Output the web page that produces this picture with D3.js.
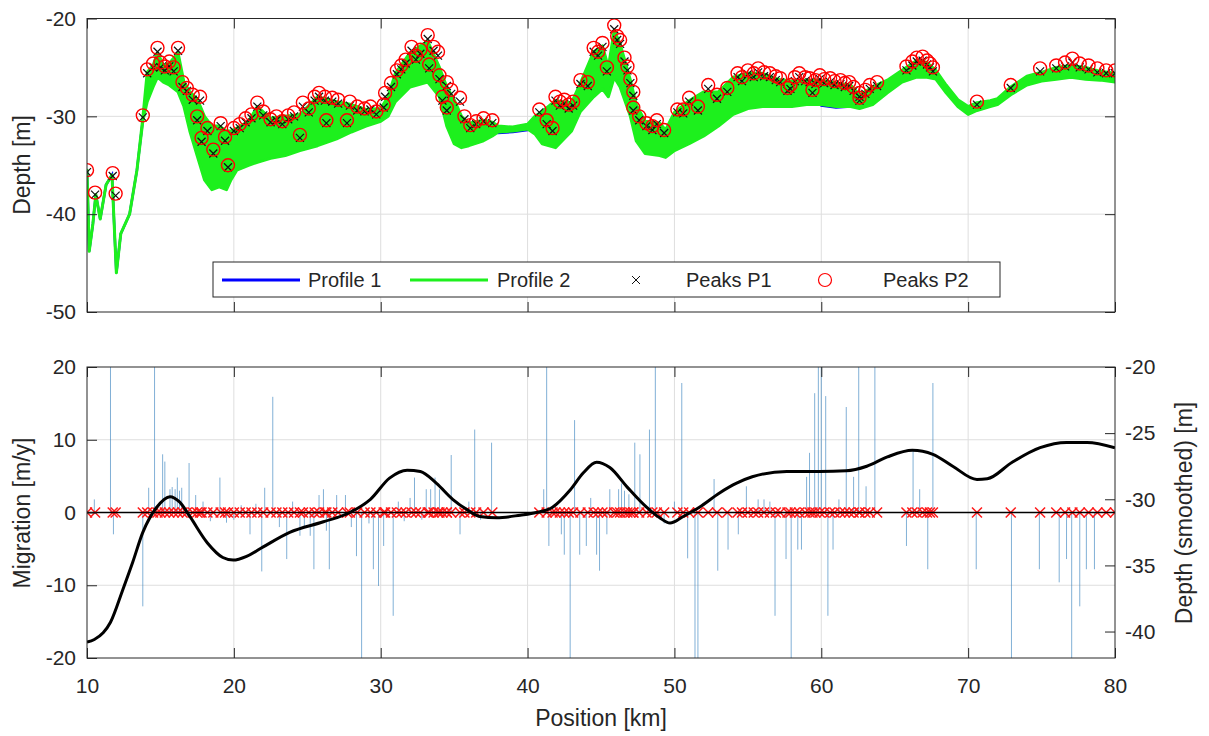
<!DOCTYPE html>
<html>
<head>
<meta charset="utf-8">
<script src="https://cdn.jsdelivr.net/npm/d3@7"></script>
<style>
body { margin: 0; background: #fff; }
text { font-family: "Liberation Sans", Arial, sans-serif; fill: #262626; }
</style>
</head>
<body>
<div id="svgWrapper"></div>
<script>
const width = 1209;
const height = 736;

// Profile band (profile 2 upper / lower edge) and profile 1, depth in m
const profPos = [10.0, 10.15, 10.4, 10.6, 10.9, 11.3, 11.7, 12.0, 12.3, 12.9, 13.4, 13.8, 14.1, 14.5, 14.8, 15.2, 15.6, 16.2, 16.6, 17.0,
    17.5, 18.0, 18.5, 19.0, 19.5, 19.8, 20.2, 21.0, 21.6, 22.5, 23.5, 24.5, 25.7, 27.0, 28.0, 29.0, 30.0, 30.5, 31.0, 32.0,
    33.2, 34.0, 34.5, 35.0, 35.5, 36.0, 37.0, 37.6, 38.0, 39.0, 40.0, 40.5, 41.0, 41.9, 43.0, 43.6, 44.5, 45.1, 45.5, 45.9,
    46.3, 47.0, 47.4, 48.0, 49.0, 49.4, 50.0, 51.0, 52.0, 53.0, 54.0, 55.0, 56.0, 57.0, 58.0, 59.0, 60.0, 61.0, 62.0, 62.6,
    63.5, 64.5, 65.5, 66.5, 67.2, 67.8, 68.5, 69.3, 70.0, 70.6, 71.5, 72.0, 72.9, 74.0, 75.0, 76.0, 77.0, 78.0, 79.0, 80.0];
const p2Top = [-35.5, -43.8, -41.0, -38.0, -40.5, -37.0, -36.0, -46.0, -42.0, -40.0, -35.5, -30.2, -25.5, -24.8, -23.5, -24.8, -24.6, -23.5, -26.5, -27.5,
    -28.2, -30.0, -31.0, -31.0, -31.5, -31.5, -31.2, -30.5, -29.0, -30.2, -30.0, -29.8, -28.0, -28.5, -28.8, -29.3, -29.2, -28.0, -25.6, -23.5,
    -22.3, -25.0, -27.0, -28.3, -30.0, -30.7, -30.4, -30.6, -31.0, -31.1, -30.8, -30.0, -29.5, -28.4, -28.6, -26.6, -23.4, -22.8, -25.0, -21.2,
    -22.6, -26.3, -28.8, -30.5, -30.7, -31.4, -29.6, -28.4, -27.5, -27.5, -26.0, -25.6, -25.6, -26.2, -26.4, -26.3, -26.3, -26.6, -26.8, -27.8,
    -27.0, -26.3, -25.3, -24.3, -24.5, -25.3, -26.8, -28.3, -29.0, -28.6, -28.4, -28.2, -27.0, -25.9, -25.5, -25.0, -24.8, -25.0, -25.4, -25.6];
const p2Bot = [-35.5, -43.8, -41.0, -38.0, -40.5, -37.0, -36.0, -46.0, -42.0, -40.0, -35.5, -30.5, -28.5, -27.0, -26.0, -26.5, -26.8, -27.5, -29.0, -31.5,
    -34.0, -36.5, -37.5, -37.2, -37.5, -36.5, -35.5, -35.0, -34.7, -34.3, -34.0, -33.5, -33.0, -32.3, -31.6, -31.0, -30.5, -30.0, -28.5, -27.0,
    -26.5, -28.0, -31.0, -32.8, -33.2, -33.0, -32.5, -32.0, -31.6, -31.5, -31.3, -31.8, -32.8, -33.2, -31.5, -29.5, -28.0, -27.2, -28.0, -26.0,
    -27.0, -30.0, -32.5, -33.8, -34.0, -34.2, -33.5, -32.8, -32.0, -31.0, -29.8, -29.2, -29.0, -29.0, -29.0, -28.8, -28.8, -29.0, -29.0, -29.2,
    -28.8, -27.6, -26.5, -26.0, -26.0, -26.2, -27.6, -29.0, -29.8, -29.4, -29.0, -28.8, -27.8, -26.8, -26.4, -26.2, -26.0, -26.2, -26.3, -26.5];
const p1Depth = [-35.5, -43.8, -41.0, -38.0, -40.5, -37.0, -36.0, -46.0, -42.0, -40.0, -35.5, -30.4, -27.0, -26.0, -25.0, -25.8, -25.8, -25.6, -27.8, -29.5,
    -31.0, -33.0, -34.0, -34.0, -34.2, -34.0, -33.5, -33.0, -32.0, -32.2, -32.0, -31.6, -30.5, -30.4, -30.2, -30.2, -29.9, -29.0, -27.0, -25.3,
    -24.4, -26.5, -29.0, -30.5, -31.6, -31.8, -31.5, -31.6, -31.7, -31.6, -31.4, -31.0, -31.2, -30.8, -30.0, -28.0, -25.7, -25.0, -26.5, -23.6,
    -24.8, -28.2, -30.6, -32.1, -32.3, -32.8, -31.5, -30.6, -29.8, -29.2, -27.9, -27.4, -27.3, -27.6, -27.7, -27.6, -28.9, -29.1, -29.0, -28.5,
    -27.9, -27.0, -25.9, -25.2, -25.3, -25.8, -27.2, -28.7, -29.6, -29.2, -28.7, -28.5, -27.4, -26.4, -26.0, -25.6, -25.4, -25.6, -25.9, -26.1];

// Detected peaks: position [km], depth of profile 1 and profile 2
const peakPos = [10.0, 10.55, 11.75, 11.95,
    13.8, 14.1, 14.5, 14.8, 15.0, 15.3, 15.6, 15.9, 16.2, 16.5, 16.8, 17.2, 17.5, 17.7, 17.8, 18.2, 18.6, 19.1, 19.4, 19.6,
    20.0, 20.4, 20.8, 21.2, 21.6, 22.0, 22.5, 22.9, 23.3, 23.7, 24.1, 24.5, 24.7, 25.1, 25.5, 25.8, 26.2, 26.3, 26.7, 27.1, 27.7, 27.9, 28.4, 28.9, 29.3, 29.7,
    30.2, 30.3, 30.7, 31.1, 31.4, 31.7, 32.1, 32.4, 32.7, 33.2, 33.3, 33.6, 33.9, 34.0, 34.2, 34.5, 34.5, 34.8, 35.4, 35.7, 36.1, 36.5, 37.0, 37.6,
    40.8, 41.3, 41.7, 41.9, 42.2, 42.5, 42.8, 43.1, 43.6, 44.1, 44.5, 44.8, 45.1, 45.4, 45.9, 46.1, 46.3, 46.6, 46.8, 47.0, 47.2, 47.2, 47.6, 48.1, 48.5, 48.8, 49.3,
    50.2, 50.6, 51.0, 51.6, 52.3, 52.9, 53.6, 54.3, 54.6, 55.0, 55.4, 55.7, 56.1, 56.5, 56.9, 57.2, 57.7, 57.9, 58.2, 58.5, 58.9, 59.2, 59.4, 59.6, 59.9, 60.2, 60.6, 60.9, 61.3, 61.6, 61.9, 62.2, 62.6, 62.6, 63.0, 63.3, 63.8,
    65.8, 66.2, 66.5, 66.9, 67.2, 67.4, 67.6, 70.6, 72.9, 74.9, 76.0, 76.6, 77.1, 77.6, 78.2, 78.8, 79.4, 80.0];
const peakP2 = [-35.5, -37.8, -35.8, -37.9,
    -29.9, -25.2, -24.6, -23.0, -24.5, -24.9, -24.4, -25.0, -23.0, -26.5, -27.1, -27.8, -30.0, -28.0, -32.2, -31.2, -33.4, -30.7, -32.1, -35.0,
    -31.2, -30.8, -30.2, -29.8, -28.6, -29.5, -30.3, -30.0, -30.5, -29.9, -29.6, -31.9, -28.6, -29.2, -28.0, -27.6, -28.0, -30.4, -28.1, -28.3, -30.4, -28.5, -29.0, -29.2, -29.0, -29.5,
    -28.8, -27.6, -26.6, -25.3, -24.8, -24.2, -22.9, -23.8, -23.2, -21.7, -24.7, -22.9, -23.4, -25.8, -28.0, -26.5, -29.1, -27.3, -28.1, -30.0, -30.9, -30.5, -30.2, -30.4,
    -29.3, -30.4, -31.2, -28.0, -28.5, -28.3, -28.8, -28.5, -26.3, -26.5, -23.0, -23.4, -22.5, -25.0, -20.7, -21.8, -22.2, -24.0, -24.9, -26.2, -27.5, -29.1, -30.0, -30.7, -31.0, -30.4, -31.4,
    -29.3, -29.3, -28.1, -29.0, -26.8, -27.8, -27.1, -25.6, -26.0, -25.3, -25.6, -25.1, -25.5, -25.6, -25.9, -26.1, -27.1, -26.8, -26.0, -25.6, -26.0, -26.1, -27.3, -26.3, -25.8, -26.2, -26.1, -26.4, -26.3, -26.6, -26.5, -27.0, -27.6, -28.1, -27.3, -26.8, -26.5,
    -24.9, -24.4, -24.0, -23.9, -24.3, -24.6, -25.0, -28.5, -26.8, -25.1, -24.8, -24.5, -24.1, -24.6, -24.8, -25.1, -25.3, -25.3];
const peakP1 = [-35.7, -38.0, -36.1, -38.1,
    -30.1, -25.6, -25.0, -23.4, -25.0, -25.3, -24.9, -25.4, -23.3, -27.0, -27.4, -28.3, -30.4, -28.4, -32.6, -31.5, -33.8, -31.0, -32.5, -35.2,
    -31.5, -31.2, -30.6, -30.2, -29.0, -29.9, -30.6, -30.4, -30.8, -30.3, -30.0, -32.2, -29.0, -29.6, -28.4, -28.0, -28.4, -30.7, -28.5, -28.7, -30.7, -28.9, -29.4, -29.5, -29.3, -29.8,
    -29.1, -28.0, -27.0, -25.7, -25.2, -24.6, -23.3, -24.2, -23.6, -22.1, -25.1, -23.3, -23.8, -26.2, -28.4, -26.9, -29.4, -27.7, -28.5, -30.3, -31.2, -30.8, -30.5, -30.7,
    -29.6, -30.8, -31.5, -28.4, -28.9, -28.7, -29.2, -28.9, -26.7, -26.9, -23.4, -23.8, -22.9, -25.4, -21.1, -22.2, -22.6, -24.4, -25.3, -26.6, -27.9, -29.4, -30.4, -31.0, -31.4, -30.8, -31.7,
    -29.6, -29.7, -28.5, -29.4, -27.2, -28.2, -27.5, -26.0, -26.4, -25.7, -26.0, -25.5, -25.9, -26.0, -26.3, -26.5, -27.4, -27.2, -26.4, -26.0, -26.4, -26.5, -27.6, -26.7, -26.2, -26.6, -26.5, -26.8, -26.7, -27.0, -26.9, -27.4, -28.0, -28.4, -27.7, -27.2, -26.9,
    -25.3, -24.8, -24.4, -24.3, -24.7, -25.0, -25.4, -28.8, -27.1, -25.4, -25.1, -24.9, -24.5, -25.0, -25.2, -25.5, -25.6, -25.6];

// Migration rate at each matched peak [m/y]
const migPos = [10.5, 11.6, 11.8, 13.8, 14.2, 14.6, 15.15, 15.3, 15.65, 15.8,
    16.0, 16.15, 16.3, 16.45, 16.95, 17.4, 17.9, 18.4, 19.05, 19.5,
    20.0, 20.5, 21.1, 21.5, 21.9, 22.1, 22.65, 23.1, 23.6, 24.0,
    24.5, 24.8, 25.2, 25.45, 25.8, 26.1, 26.3, 26.5, 27.0, 27.6,
    28.0, 28.35, 28.7, 29.2, 29.5, 29.85, 30.2, 30.85, 31.2, 31.6,
    32.0, 32.3, 32.8, 33.1, 33.4, 33.7, 34.0, 34.8, 35.4, 36.0,
    36.4, 36.8, 37.55, 41.1, 41.3, 41.45, 42.3, 42.5, 42.9, 43.2,
    43.55, 44.0, 44.3, 44.7, 44.9, 45.4, 45.6, 46.2, 46.4, 46.6,
    46.9, 47.3, 47.65, 48.3, 48.7, 49.3, 50.0, 50.5, 50.9, 51.4,
    51.6, 52.7, 52.95, 53.65, 54.35, 54.9, 55.7, 56.1, 56.5, 56.85,
    57.6, 57.95, 58.4, 58.65, 59.0, 59.2, 59.55, 59.8, 60.0, 60.3,
    60.45, 60.8, 61.2, 61.7, 62.2, 62.55, 63.05, 63.65, 65.8, 66.25,
    66.7, 67.25, 67.6, 70.55, 72.95, 74.85, 76.2, 76.7, 77.05, 77.6,
    78.05, 78.6];
const migVal = [1.8, 20, -3.0, -12.9, 3.4, 20, 8.0, 7.0, 3.2, 3.5,
    3.2, 4.8, 3.0, 3.4, 6.8, 2.4, 1.5, -1.2, 4.8, -1.4,
    -1.0, 1.0, -3.0, 1.2, -8.1, 3.4, 15.9, -2.0, -6.4, 1.5,
    -3.2, -2.0, -3.2, -7.8, 2.4, 3.2, -2.5, -7.8, 2.4, 2.4,
    -2.0, -6.0, -20, -1.5, -7.8, -10.1, -4.6, -14.2, 1.5, -1.2,
    2.0, 4.8, -1.0, 3.2, 3.2, 4.8, 3.2, 7.9, -3.0, 1.5,
    11.4, -1.0, 9.6, 3.2, 20, -4.6, -3.0, -5.8, -20, 12.7,
    -5.8, -4.6, 2.0, -5.8, -8.0, -3.0, 3.2, 3.2, 4.0, 3.0,
    2.5, 9.6, 8.0, 11.4, 20, -1.5, 1.5, 17.8, -6.3, -20,
    -20, 4.6, -8.0, -5.1, -3.0, 3.6, 1.8, 1.8, 1.5, -14.2,
    -6.4, -20, -5.1, -5.1, 4.9, 8.2, 16.4, 20, 20, 16.0,
    -14.2, -5.1, 1.8, 14.5, 4.9, 20, 3.6, 20, -4.6, 8.6,
    3.2, -7.8, 17.8, -7.8, -20, -7.8, -9.6, -6.4, -20, -12.9,
    -7.8, -7.8];

// Smoothed depth profile (right axis) [m]
const smPos = [10.0, 10.5, 11.1, 11.6, 12.45, 13.1, 13.8, 14.75, 15.65, 16.3, 17.0, 18.2, 19.25, 19.95, 20.9, 22.0, 23.8, 26.1, 27.9, 29.3,
    30.6, 31.8, 32.7, 33.8, 34.9, 35.9, 36.75, 37.9, 39.5, 40.6, 41.7, 42.9, 43.8, 44.7, 45.6, 46.8, 48.1, 49.0, 49.7, 50.6,
    51.7, 53.1, 54.2, 55.3, 57.65, 59.9, 61.7, 63.1, 64.5, 66.2, 67.6, 68.95, 70.6, 71.3, 73.0, 74.9, 76.7, 78.1, 80.0];
const smDepth = [-40.8, -40.6, -40.1, -39.3, -36.8, -34.8, -32.5, -30.6, -29.8, -30.2, -31.3, -33.3, -34.4, -34.6, -34.3, -33.6, -32.5, -31.7, -31.0, -30.0,
    -28.4, -27.8, -27.9, -28.8, -30.0, -30.8, -31.3, -31.4, -31.2, -31.0, -30.6, -29.3, -28.0, -27.2, -27.6, -29.1, -30.6, -31.4, -31.8, -31.3,
    -30.6, -29.5, -28.8, -28.3, -27.9, -27.9, -27.85, -27.5, -26.8, -26.3, -26.6, -27.5, -28.5, -28.45, -27.2, -26.1, -25.7, -25.7, -26.1];

// Tick values
const xTicks = [10, 20, 30, 40, 50, 60, 70, 80];
const topYTicks = [-50, -40, -30, -20];
const migTicks = [-20, -10, 0, 10, 20];
const smTicks = [-40, -35, -30, -25, -20];

const svg = d3.select("#svgWrapper")
    .append("svg")
    .attr("width", width)
    .attr("height", height);

svg.append("rect")
    .attr("width", width)
    .attr("height", height)
    .attr("fill", "#fff");

const L = 87, R = 1115;
const topBox = { t: 18.5, b: 312 };
const botBox = { t: 367, b: 658 };

const x = d3.scaleLinear().domain([10, 80]).range([L, R]);
const yTop = d3.scaleLinear().domain([-50, -20]).range([topBox.b, topBox.t]);
const yMig = d3.scaleLinear().domain([-20, 20]).range([botBox.b, botBox.t]);
const ySm = d3.scaleLinear().domain([-42, -20]).range([botBox.b, botBox.t]);

const defs = svg.append("defs");
defs.append("clipPath").attr("id", "clipTop").append("rect")
    .attr("x", L).attr("y", topBox.t).attr("width", R - L).attr("height", topBox.b - topBox.t);
defs.append("clipPath").attr("id", "clipBot").append("rect")
    .attr("x", L).attr("y", botBox.t).attr("width", R - L).attr("height", botBox.b - botBox.t);

const fmt = d => String(d);
const gridColor = "#dedede";

function grid(box, yScale, yTicks) {
    const g = svg.append("g");
    g.selectAll(".gx").data(xTicks.slice(1, -1)).enter().append("line")
        .attr("x1", d => x(d)).attr("x2", d => x(d))
        .attr("y1", box.t).attr("y2", box.b)
        .attr("stroke", gridColor).attr("stroke-width", 1);
    g.selectAll(".gy").data(yTicks).enter().append("line")
        .attr("x1", L).attr("x2", R)
        .attr("y1", d => yScale(d)).attr("y2", d => yScale(d))
        .attr("stroke", gridColor).attr("stroke-width", 1);
}

function frame(box, yLeft, leftTicks, yRight, rightTicks, showX) {
    const axes = [
        [d3.axisBottom(x).tickValues(xTicks).tickSize(-10).tickPadding(20).tickFormat(showX ? fmt : ""), 0, box.b],
        [d3.axisTop(x).tickValues(xTicks).tickSize(-10).tickFormat(""), 0, box.t],
        [d3.axisLeft(yLeft).tickValues(leftTicks).tickSize(-10).tickPadding(11).tickFormat(fmt), L, 0],
        [d3.axisRight(yRight).tickValues(rightTicks).tickSize(-10).tickPadding(10).tickFormat(yRight === yLeft ? "" : fmt), R, 0]
    ];
    axes.forEach(([axis, tx, ty]) => {
        const a = svg.append("g").attr("transform", `translate(${tx},${ty})`).call(axis);
        a.select(".domain").remove();
        a.selectAll("line").attr("stroke", "#262626");
        a.selectAll("text").attr("fill", "#262626").style("font-size", "21px")
            .style("font-family", "'Liberation Sans', Arial, sans-serif");
    });
    svg.append("rect")
        .attr("x", L).attr("y", box.t).attr("width", R - L).attr("height", box.b - box.t)
        .attr("fill", "none").attr("stroke", "#262626").attr("stroke-width", 1);
}

function xMark(g, cx, cy, s, color, w) {
    g.append("path")
        .attr("d", `M${cx - s},${cy - s}L${cx + s},${cy + s}M${cx - s},${cy + s}L${cx + s},${cy - s}`)
        .attr("stroke", color).attr("stroke-width", w).attr("fill", "none");
}

// ---------- Top panel ----------
grid(topBox, yTop, [-40, -30]);

const topG = svg.append("g").attr("clip-path", "url(#clipTop)");
const profIdx = d3.range(profPos.length);

topG.append("path")
    .datum(profIdx)
    .attr("d", d3.line().x(i => x(profPos[i])).y(i => yTop(p1Depth[i])))
    .attr("fill", "none").attr("stroke", "#0000ff").attr("stroke-width", 2.5);

topG.append("path")
    .datum(profIdx)
    .attr("d", d3.area().x(i => x(profPos[i])).y0(i => yTop(p2Bot[i])).y1(i => yTop(p2Top[i])))
    .attr("fill", "#1df01d").attr("stroke", "#1df01d").attr("stroke-width", 3).attr("stroke-linejoin", "round");

const peakIdx = d3.range(peakPos.length);
peakIdx.forEach(i => xMark(topG, x(peakPos[i]), yTop(peakP1[i]), 4, "#111", 1.2));

topG.selectAll("circle.p2")
    .data(peakIdx)
    .enter()
    .append("circle")
    .attr("cx", i => x(peakPos[i]))
    .attr("cy", i => yTop(peakP2[i]))
    .attr("r", 6.5)
    .attr("fill", "none")
    .attr("stroke", "#ff0000")
    .attr("stroke-width", 1.4);

frame(topBox, yTop, topYTicks, yTop, topYTicks, false);

// Legend
const leg = svg.append("g");
leg.append("rect").attr("x", 213).attr("y", 262).attr("width", 787).attr("height", 35)
    .attr("fill", "#fff").attr("stroke", "#262626").attr("stroke-width", 1);
leg.append("line").attr("x1", 222).attr("x2", 300).attr("y1", 280).attr("y2", 280)
    .attr("stroke", "#0000ff").attr("stroke-width", 3);
leg.append("line").attr("x1", 410).attr("x2", 488).attr("y1", 280).attr("y2", 280)
    .attr("stroke", "#1df01d").attr("stroke-width", 3);
xMark(leg, 636, 280, 4, "#111", 1);
leg.append("circle").attr("cx", 825).attr("cy", 280).attr("r", 6.5)
    .attr("fill", "none").attr("stroke", "#ff0000").attr("stroke-width", 1.2);
[["Profile 1", 308], ["Profile 2", 497], ["Peaks P1", 686], ["Peaks P2", 883]].forEach(([t, px]) => {
    leg.append("text").attr("x", px).attr("y", 280).attr("dy", "0.35em")
        .style("font-size", "20px").text(t);
});

// ---------- Bottom panel ----------
grid(botBox, yMig, [-10, 0, 10]);

const botG = svg.append("g").attr("clip-path", "url(#clipBot)");
const migIdx = d3.range(migPos.length);

botG.selectAll("line.stem")
    .data(migIdx)
    .enter()
    .append("line")
    .attr("x1", i => x(migPos[i])).attr("x2", i => x(migPos[i]))
    .attr("y1", yMig(0)).attr("y2", i => yMig(migVal[i]))
    .attr("stroke", "#3d86c0").attr("stroke-opacity", 0.65).attr("stroke-width", 1);

peakIdx.forEach(i => xMark(botG, x(peakPos[i]), yMig(0), 5, "#ff1a1a", 1.5));

botG.append("line")
    .attr("x1", L).attr("x2", R).attr("y1", yMig(0)).attr("y2", yMig(0))
    .attr("stroke", "#000").attr("stroke-width", 1.5);

botG.append("path")
    .datum(d3.range(smPos.length))
    .attr("d", d3.line().curve(d3.curveMonotoneX).x(i => x(smPos[i])).y(i => ySm(smDepth[i])))
    .attr("fill", "none").attr("stroke", "#000").attr("stroke-width", 3);

frame(botBox, yMig, migTicks, ySm, smTicks, true);

// Axis titles
svg.append("text").attr("transform", "translate(30,165) rotate(-90)")
    .attr("text-anchor", "middle").style("font-size", "23px").text("Depth [m]");
svg.append("text").attr("transform", "translate(30,513) rotate(-90)")
    .attr("text-anchor", "middle").style("font-size", "23px").text("Migration [m/y]");
svg.append("text").attr("transform", "translate(1192,513) rotate(-90)")
    .attr("text-anchor", "middle").style("font-size", "23px").text("Depth (smoothed) [m]");
svg.append("text").attr("x", 601).attr("y", 718).attr("dy", "0.35em")
    .attr("text-anchor", "middle").style("font-size", "23px").text("Position [km]");
</script>
</body>
</html>
